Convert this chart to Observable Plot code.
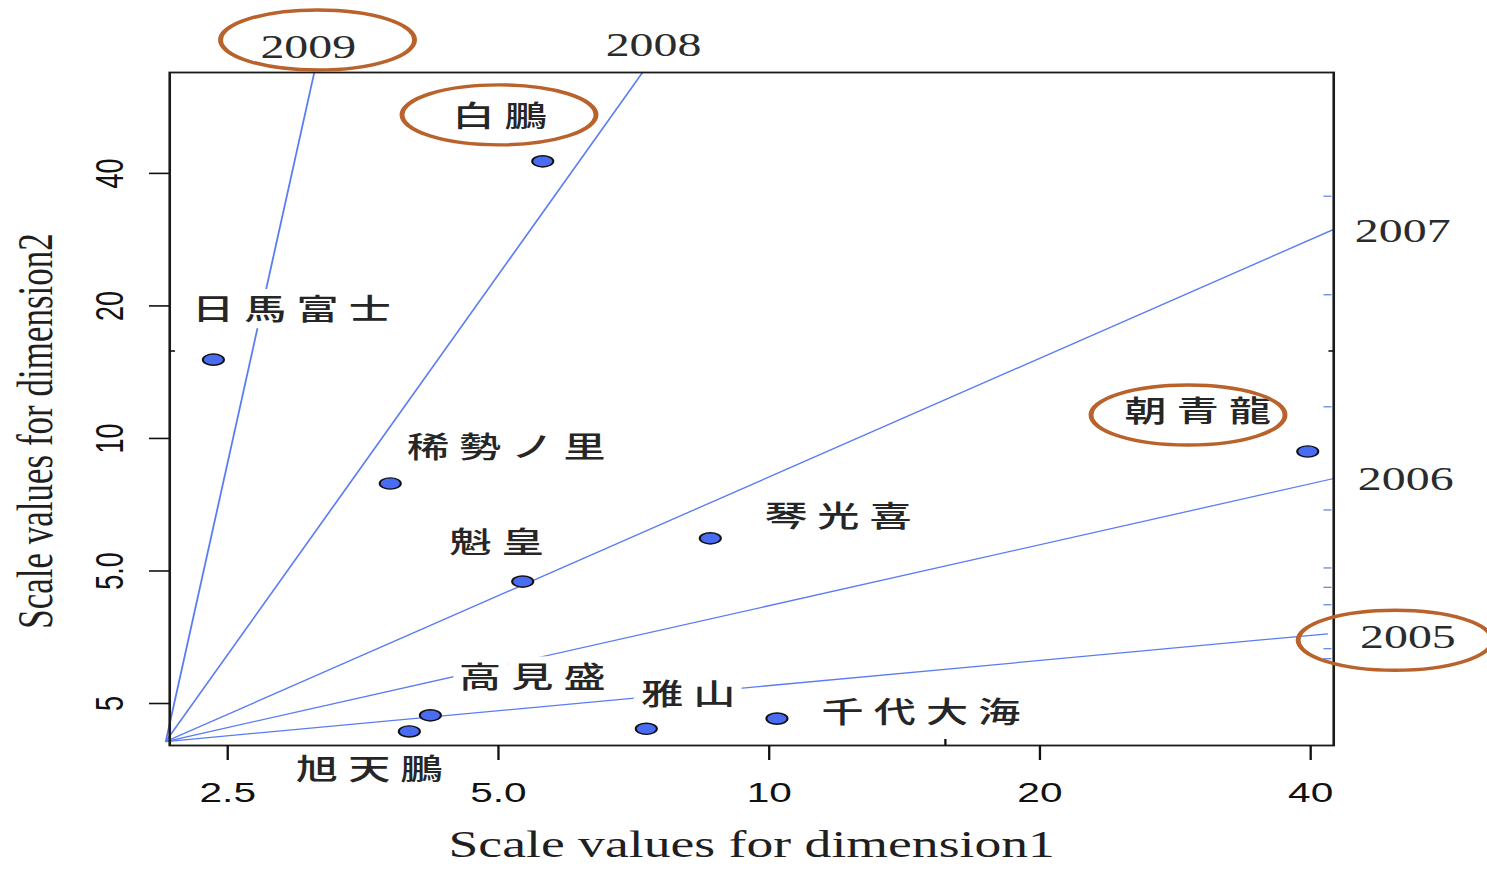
<!DOCTYPE html>
<html>
<head>
<meta charset="utf-8">
<script src="https://cdn.jsdelivr.net/npm/d3@7"></script>
<script src="https://cdn.jsdelivr.net/npm/@observablehq/plot@0.6"></script>
<style>
  html, body { margin: 0; padding: 0; background: #fff; overflow: hidden; }
  #chart { width: 1487px; height: 869px; overflow: hidden; position: relative; }
  #chart svg { transform-origin: 0 0; }
</style>
</head>
<body>
<div id="chart"></div>
<script>
// ---------------- data ----------------
const wrestlers = ["日馬富士", "白鵬", "稀勢ノ里", "魁皇", "琴光喜", "朝青龍", "高見盛", "雅山", "千代大海", "旭天鵬"];
const dim1 = [2.41, 5.6, 3.79, 5.32, 8.6, 39.7, 4.2, 7.3, 10.2, 3.98];
const dim2 = [15.1, 42.6, 7.9, 4.73, 5.93, 9.34, 2.35, 2.19, 2.31, 2.16];

const years = ["2009", "2008", "2007", "2006", "2005"];
const yearLineDim1 = [3.12, 7.23, 42.43, 42.43, 41.8];
const yearLineDim2 = [67.8, 67.8, 29.85, 8.11, 3.6];
const originDim1 = 2.133;
const originDim2 = 2.049;

const xTicks = [2.5, 5, 10, 20, 40];
const xTickLabels = ["2.5", "5.0", "10", "20", "40"];
const yTicks = [2.5, 5, 10, 20, 40];
const yTickLabels = ["5", "5.0", "10", "20", "40"];
const minorX = [15.7];
const minorY = [15.8];
const edgeDashY = [35.5, 21.2, 11.8, 6.88, 5.08, 4.59, 4.19, 3.33, 3.16];

const circled = ["2009", "白鵬", "朝青龍", "2005"];

const xTitle = "Scale values for dimension1";
const yTitle = "Scale values for dimension2";

// ---------------- layout (offsets in final picture px) ----------------
const S = 1487 / 1025;          // horizontal stretch of the original picture
const W = 1025, H = 869;
const nameOffset = {
  "日馬富士": [78, -49], "白鵬": [-43, -44], "稀勢ノ里": [116, -35], "魁皇": [-26, -38],
  "琴光喜": [128, -21], "朝青龍": [-110, -39], "高見盛": [102, -37], "雅山": [42, -33],
  "千代大海": [144, -5], "旭天鵬": [-40, 39]
};
const yearOffset = { "2009": [-6, -25], "2008": [11, -27], "2007": [69, 2], "2006": [72, 1], "2005": [80, 4] };
const ringOffset = { "2009": [10, -7], "白鵬": [0, -2], "朝青龍": [-9, 3], "2005": [-12, 3] };
const LS = 7; // CJK letter spacing

// ---------------- build ----------------
const points = wrestlers.map((name, i) => ({ name, d1: dim1[i], d2: dim2[i] }));
const yearLines = years.map((year, i) => ({ year, d1: yearLineDim1[i], d2: yearLineDim2[i] }));

const lineBlue = "#5a7cf3";

// slightly flattened dot (the original picture is stretched horizontally)
const flatDot = {
  draw(ctx, size) {
    const ry = Math.sqrt(size / Math.PI), rx = ry * 1.3, k = 0.5523;
    ctx.moveTo(rx, 0);
    ctx.bezierCurveTo(rx, k * ry, k * rx, ry, 0, ry);
    ctx.bezierCurveTo(-k * rx, ry, -rx, k * ry, -rx, 0);
    ctx.bezierCurveTo(-rx, -k * ry, -k * rx, -ry, 0, -ry);
    ctx.bezierCurveTo(k * rx, -ry, rx, -k * ry, rx, 0);
    ctx.closePath();
  }
};

const nameMarks = points.map(p => Plot.text([p], {
  x: "d1", y: "d2", text: "name",
  dx: nameOffset[p.name][0] / S + LS / 2, dy: nameOffset[p.name][1],
  fontFamily: "Noto Sans CJK JP", fontSize: 29, fontWeight: 500, fill: "#262626",
  stroke: "white", strokeWidth: 14
}));

const yearMarks = yearLines.map(l => Plot.text([l], {
  x: "d1", y: "d2", text: "year",
  dx: yearOffset[l.year][0] / S, dy: yearOffset[l.year][1],
  fontFamily: "Liberation Serif", fontSize: 33, fill: "#2b2b2b"
}));

const ringMark = (index, scales) => {
  const g = d3.create("svg:g")
    .attr("fill", "none").attr("stroke", "#b9622b").attr("stroke-width", 3.4);
  for (const key of circled) {
    const p = points.find(d => d.name === key) || yearLines.find(d => d.year === key);
    const off = nameOffset[key] || yearOffset[key];
    const r = ringOffset[key];
    g.append("ellipse")
      .attr("cx", scales.x(p.d1) + (off[0] + r[0]) / S)
      .attr("cy", scales.y(p.d2) + off[1] + r[1])
      .attr("rx", 97 / S).attr("ry", 30);
  }
  return g.node();
};

const blank = () => "";

const chart = Plot.plot({
  width: W,
  height: H,
  marginLeft: 169 / S,
  marginRight: W - 1333 / S,
  marginTop: 72,
  marginBottom: H - 745,
  x: { type: "log", domain: [2.155, 42.43] },
  y: { type: "log", domain: [2.007, 67.8] },
  style: { fontFamily: "Liberation Sans", background: "white", overflow: "visible" },
  marks: [
    Plot.link(yearLines, {
      x1: () => originDim1, y1: () => originDim2, x2: "d1", y2: "d2",
      stroke: lineBlue, strokeWidth: 1.25
    }),
    Plot.axisY({ anchor: "right", ticks: edgeDashY, tickSize: 8 / S, dx: -11 / S, tickFormat: blank, label: null, color: lineBlue, strokeWidth: 1.2 }),
    ...nameMarks,
    Plot.dot(points, { x: "d1", y: "d2", r: 5.6, symbol: flatDot, fill: "#4a6cf2", stroke: "#111", strokeWidth: 1.4 }),
    Plot.frame({ stroke: "#1a1a1a", strokeWidth: 1.8 }),
    Plot.axisX({
      ticks: xTicks, tickFormat: d => xTickLabels[xTicks.indexOf(d)],
      tickSize: 15, tickPadding: 22, fontSize: 28, strokeWidth: 1.6, color: "#111", label: null
    }),
    Plot.axisY({ ticks: yTicks, tickSize: 20 / S, tickFormat: blank, strokeWidth: 1.6, color: "#111", label: null }),
    Plot.text(yTicks, {
      y: d => d, text: (d, i) => yTickLabels[i], frameAnchor: "left", rotate: -90,
      textAnchor: "middle", lineAnchor: "middle",
      dx: (110 - 169) / S, fontSize: 27, fill: "#111"
    }),
    Plot.axisX({ ticks: minorX, tickSize: 6, dy: -6, tickFormat: blank, strokeWidth: 1.6, color: "#111", label: null }),
    Plot.axisY({ ticks: minorY, tickSize: 6 / S, dx: 6 / S, tickFormat: blank, strokeWidth: 1.6, color: "#111", label: null }),
    Plot.axisY({ anchor: "right", ticks: minorY, tickSize: 6 / S, dx: -6 / S, tickFormat: blank, strokeWidth: 1.6, color: "#111", label: null }),
    ...yearMarks,
    Plot.text([xTitle], {
      text: d => d, frameAnchor: "bottom", dy: 100, textAnchor: "middle", lineAnchor: "middle",
      fontFamily: "Liberation Serif", fontSize: 37, fill: "#1f1f1f"
    }),
    Plot.text([yTitle], {
      text: d => d, frameAnchor: "left", rotate: -90, dx: (35 - 169) / S, dy: 22,
      textAnchor: "middle", lineAnchor: "middle",
      fontFamily: "Liberation Serif", fontSize: 35, fill: "#1f1f1f"
    }),
    ringMark
  ]
});

// widen CJK labels
const names = new Set(wrestlers);
chart.querySelectorAll("text").forEach(t => {
  if (names.has(t.textContent)) t.style.letterSpacing = LS + "px";
});

chart.style.transform = `scaleX(${S})`;
chart.style.transformOrigin = "0 0";
chart.style.maxWidth = "none";
document.getElementById("chart").appendChild(chart);
</script>
</body>
</html>
